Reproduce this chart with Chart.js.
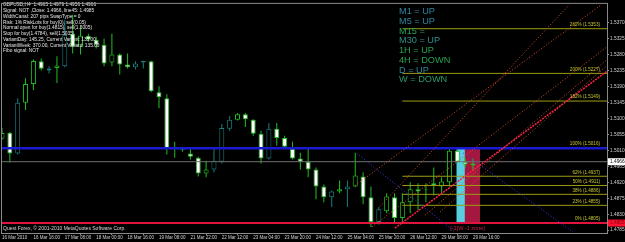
<!DOCTYPE html>
<html>
<head>
<meta charset="utf-8">
<script src="https://cdn.jsdelivr.net/npm/chart.js@4.4.1/dist/chart.umd.min.js"></script>
<style>
  html, body { margin: 0; padding: 0; background: #000; overflow: hidden; }
  canvas { display: block; }
</style>
</head>
<body>
<canvas id="chart" width="625" height="242"></canvas>
<script>
// GBPUSD H4 - candles (bar index 0 = 16 Mar 2010 00:00)
const opens  = [1.5043, 1.5060, 1.5001, 1.5144, 1.5197, 1.5261, 1.5235, 1.5242, 1.5247, 1.5339,
                1.5302, 1.5333, 1.5322, 1.5308, 1.5258, 1.5280, 1.5252, 1.5244, 1.5258, 1.5261,
                1.5174, 1.5157, 1.5015, 1.5017, 1.5001, 1.4989, 1.4945, 1.4956, 1.4978, 1.5071,
                1.5096, 1.5112, 1.5096, 1.5057, 1.4987, 1.5071, 1.5045, 1.5015, 1.4987, 1.4978,
                1.4956, 1.4908, 1.4878, 1.4894, 1.4900, 1.4908, 1.4936, 1.4878, 1.4808, 1.4838,
                1.4878, 1.4819, 1.4864, 1.4900, 1.4899, 1.4917, 1.4908, 1.4920, 1.5009, 1.4978,
                1.4967];
const highs  = [1.5073, 1.5062, 1.5157, 1.5213, 1.5266, 1.5269, 1.5247, 1.5275, 1.5378, 1.5392,
                1.5358, 1.5339, 1.5330, 1.5325, 1.5339, 1.5283, 1.5283, 1.5261, 1.5263, 1.5263,
                1.5191, 1.5168, 1.5034, 1.5020, 1.5015, 1.4992, 1.4981, 1.5015, 1.5084, 1.5107,
                1.5115, 1.5115, 1.5098, 1.5065, 1.5087, 1.5087, 1.5051, 1.5034, 1.5003, 1.5015,
                1.4962, 1.4914, 1.4897, 1.4925, 1.4925, 1.5003, 1.4948, 1.4908, 1.4850, 1.4889,
                1.4889, 1.4889, 1.4920, 1.4917, 1.4917, 1.4962, 1.4934, 1.5017, 1.5017, 1.4989,
                1.4987];
const lows   = [1.5040, 1.4976, 1.4998, 1.5124, 1.5180, 1.5235, 1.5227, 1.5200, 1.5244, 1.5283,
                1.5280, 1.5316, 1.5297, 1.5247, 1.5247, 1.5224, 1.5241, 1.5238, 1.5241, 1.5174,
                1.5129, 1.4998, 1.4989, 1.5006, 1.4984, 1.4936, 1.4934, 1.4948, 1.4973, 1.5065,
                1.5094, 1.5076, 1.5051, 1.4973, 1.4984, 1.5023, 1.5015, 1.4984, 1.4956, 1.4934,
                1.4872, 1.4864, 1.4850, 1.4889, 1.4850, 1.4906, 1.4858, 1.4794, 1.4800, 1.4833,
                1.4808, 1.4808, 1.4833, 1.4841, 1.4864, 1.4883, 1.4889, 1.4908, 1.4975, 1.4962,
                1.4953];
const closes = [1.5059, 1.5001, 1.5144, 1.5197, 1.5262, 1.5240, 1.5241, 1.5249, 1.5336, 1.5302,
                1.5333, 1.5322, 1.5308, 1.5255, 1.5280, 1.5252, 1.5244, 1.5255, 1.5262, 1.5177,
                1.5160, 1.5015, 1.5016, 1.5012, 1.4992, 1.4945, 1.4956, 1.4981, 1.5073, 1.5096,
                1.5112, 1.5098, 1.5057, 1.4987, 1.5071, 1.5045, 1.5020, 1.4987, 1.4978, 1.4956,
                1.4908, 1.4878, 1.4894, 1.4900, 1.4908, 1.4939, 1.4878, 1.4808, 1.4844, 1.4880,
                1.4819, 1.4864, 1.4900, 1.4894, 1.4900, 1.4911, 1.4922, 1.5009, 1.4978, 1.4970,
                1.4973];
// bars the colouring indicator paints teal instead of green
const tealBars = [2, 6, 8, 17, 18, 27, 28, 29, 34, 42, 44, 48];

const xTickBars   = [0, 4, 8, 12, 16, 20, 24, 28, 32, 36, 40, 44, 48, 52, 56, 60];
const xTickLabels = ['16 Mar 2010', '16 Mar 16:00', '17 Mar 08:00', '18 Mar 00:00', '18 Mar 16:00',
                     '19 Mar 08:00', '21 Mar 22:00', '22 Mar 12:00', '23 Mar 04:00', '23 Mar 20:00',
                     '24 Mar 12:00', '25 Mar 04:00', '25 Mar 20:00', '26 Mar 12:00', '29 Mar 08:00',
                     '29 Mar 16:00'];
const yTickValues = [1.4785, 1.4830, 1.4875, 1.4920, 1.4965, 1.5010, 1.5055, 1.5100,
                     1.5145, 1.5190, 1.5235, 1.5280, 1.5325, 1.5370];

// horizontal objects
const highLevel = 1.5016;
const lowLevel  = 1.4805;
const bidLevel  = 1.4978;
const lastPrice = '1.4966';

// fibo expansion
const fibStartBar = 51;
const fibPercents = ['0%', '23%', '38%', '50%', '62%', '100%', '162%', '200%', '262%'];
const fibPrices   = [1.4805, 1.4855, 1.4886, 1.4911, 1.4937, 1.5016, 1.5149, 1.5227, 1.5353];

// trend lines: [startBar, startPrice, endBar, endPrice]
const redLines  = [[44.97, 1.4911, 76.31, 1.5420],
                   [47.13, 1.4794, 77.07, 1.5302],
                   [48.15, 1.4852, 72.23, 1.5420],
                   [53.89, 1.4827, 77.07, 1.5266],
                   [55.80, 1.4836, 77.07, 1.5249]];
const mainLine  = [50.06, 1.4791, 77.07, 1.5233];
const blueLines = [[45.22, 1.5001, 57.71, 1.4780],
                   [58.73, 1.5003, 72.74, 1.4780]];

// zones: [startBar, endBar, low, high]
const zones = [[57.9, 58.97, 1.4805, 1.5016],
               [58.97, 60.9, 1.4805, 1.5016]];

const infoLines = [
  'GBPUSD,H4  1.4965 1.4979 1.4956 1.4966',
  'Signal: NOT ,Close: 1.4966, line45: 1.4985',
  'WidthCanal: 207 pips SwapType = 0',
  'Risk: 1% RiskLots for buy(0), sell(0.05)',
  'Normal open for buy(1.4815), sell(1.5005)',
  'Stop for buy(1.4784), sell(1.5035)',
  'VariantDay: 145.25, Current Variant: 135.00',
  'VariantWeek: 370.00, Current Variant: 135.00',
  'Fibo signal: NOT'
];
const trendLines = ['M1 = UP', 'M5 = UP', 'M15 =', 'M30 = UP', '1H = UP', '4H = DOWN', 'D = UP', 'W = DOWN'];
const footer = 'Quest Forex, \u00a9 2001-2010 MetaQuotes Software Corp.';

const GREEN = '#1fbf1f';
const TEAL = '#1e7c7c';
const FONT = 'Liberation Sans, Arial, sans-serif';

function seg(l) {
  return [{ x: l[0], y: l[1] }, { x: l[2], y: l[3] }];
}

const datasets = [];

// wicks
datasets.push({
  type: 'bar', order: 3,
  data: highs.map((h, i) => ({ x: i, y: [lows[i], h] })),
  backgroundColor: highs.map((h, i) => tealBars.includes(i) ? TEAL : GREEN),
  borderWidth: 0, barThickness: 1, grouped: false, inflateAmount: 0
});
// bodies
datasets.push({
  type: 'bar', order: 2,
  data: opens.map((o, i) => ({ x: i, y: [o, closes[i]] })),
  backgroundColor: opens.map((o, i) => closes[i] < o ? '#ffffff' : '#000000'),
  borderColor: opens.map((o, i) => tealBars.includes(i) ? TEAL : GREEN),
  borderWidth: 1, borderSkipped: false, barThickness: 5, grouped: false, inflateAmount: 0
});

// fibo levels
fibPrices.forEach(p => {
  datasets.push({
    type: 'line', order: 1,
    data: [{ x: fibStartBar, y: p }, { x: 77.07, y: p }],
    borderColor: '#9c9c14', borderWidth: 1, pointRadius: 0
  });
});

// trend lines
redLines.forEach(l => {
  datasets.push({
    type: 'line', order: 0, data: seg(l),
    borderColor: '#e0502a', borderWidth: 1, borderDash: [1, 2], pointRadius: 0
  });
});
datasets.push({
  type: 'line', order: 0, data: seg(mainLine),
  borderColor: '#ff1e46', borderWidth: 1.5, borderDash: [2, 1], pointRadius: 0
});
blueLines.forEach(l => {
  datasets.push({
    type: 'line', order: 0, data: seg(l),
    borderColor: '#3838ff', borderWidth: 1, borderDash: [1, 2], pointRadius: 0
  });
});

// horizontal levels
datasets.push({
  type: 'line', order: 0,
  data: [{ x: 0, y: bidLevel }, { x: 77.07, y: bidLevel }],
  borderColor: '#707070', borderWidth: 1, pointRadius: 0
});
datasets.push({
  type: 'line', order: 0,
  data: [{ x: 0, y: highLevel }, { x: 77.07, y: highLevel }],
  borderColor: '#1a1ad0', borderWidth: 2.5, pointRadius: 0
});
datasets.push({
  type: 'line', order: 0,
  data: [{ x: 0, y: lowLevel }, { x: 77.07, y: lowLevel }],
  borderColor: '#e0143c', borderWidth: 2, pointRadius: 0
});

const overlay = {
  id: 'overlay',
  beforeDatasetsDraw(chart) {
    const { ctx, scales: { x, y } } = chart;
    const zoneColors = ['#58cfe0', '#a4183f'];
    ctx.save();
    zones.forEach((z, i) => {
      const x0 = x.getPixelForValue(z[0]), x1 = x.getPixelForValue(z[1]);
      const y0 = y.getPixelForValue(z[3]), y1 = y.getPixelForValue(z[2]);
      ctx.fillStyle = zoneColors[i];
      ctx.fillRect(x0, y0, x1 - x0, y1 - y0);
    });
    ctx.restore();
  },
  afterDatasetsDraw(chart) {
    const { ctx, chartArea: a, scales: { x, y } } = chart;
    ctx.save();

    // fibo labels
    ctx.font = '4.6px ' + FONT;
    ctx.fillStyle = '#c8c832';
    ctx.textAlign = 'right';
    ctx.textBaseline = 'middle';
    fibPrices.forEach((p, i) => {
      ctx.fillText(fibPercents[i] + ' (' + p.toFixed(4) + ')', 600, y.getPixelForValue(p) - 4);
    });

    // zone caption
    ctx.font = '5.5px ' + FONT;
    ctx.fillStyle = '#d0204a';
    ctx.textAlign = 'center';
    ctx.fillText('[-1]W -1 zone]', x.getPixelForValue(59.3), y.getPixelForValue(lowLevel) + 5);

    // info block
    ctx.font = '4.8px ' + FONT;
    ctx.fillStyle = '#e6e6e6';
    ctx.textAlign = 'left';
    infoLines.forEach((t, i) => ctx.fillText(t, 3, 5 + i * 5.75));

    // timeframe trend block
    ctx.font = '9.2px ' + FONT;
    const tcol = ['#2f86a0', '#2f86a0', '#28a050', '#2f8f88', '#28a050', '#28a050', '#2f86a0', '#2a9a6a'];
    trendLines.forEach((t, i) => {
      ctx.fillStyle = tcol[i];
      ctx.fillText(t, 399, 11.7 + i * 9.75);
    });

    // footer
    ctx.font = '5px ' + FONT;
    ctx.fillStyle = '#d8d8d8';
    ctx.fillText(footer, 3, 229);

    // frame
    ctx.strokeStyle = '#8a8a8a';
    ctx.lineWidth = 1;
    ctx.strokeRect(a.left - 0.5, a.top - 0.5, a.right - a.left + 1, a.bottom - a.top + 1);

    // price boxes on the axis
    ctx.font = '4.8px ' + FONT;
    const by = y.getPixelForValue(bidLevel);
    ctx.fillStyle = '#ffffff';
    ctx.fillRect(a.right + 1, by - 3.5, 18, 7);
    ctx.fillStyle = '#000000';
    ctx.fillText(lastPrice, a.right + 3, by);
    const ry = y.getPixelForValue(lowLevel);
    ctx.fillStyle = '#ff1030';
    ctx.fillRect(a.right + 1, ry - 3.5, 18, 7);
    ctx.fillStyle = '#7a0010';
    ctx.fillText(lowLevel.toFixed(4), a.right + 3, ry);
    ctx.restore();
  }
};

new Chart(document.getElementById('chart').getContext('2d'), {
  type: 'bar',
  data: { datasets: datasets },
  options: {
    responsive: false,
    animation: false,
    events: [],
    layout: { padding: { left: 2, top: 2, right: 0, bottom: 0 } },
    plugins: { legend: { display: false }, tooltip: { enabled: false } },
    scales: {
      x: {
        type: 'linear', min: 0, max: 77.07, offset: false,
        grid: { drawOnChartArea: false, color: '#8a8a8a', tickLength: 2 },
        border: { display: false },
        afterBuildTicks: s => { s.ticks = xTickBars.map(v => ({ value: v })); },
        afterFit: s => { s.height = 9; },
        ticks: {
          autoSkip: false, maxRotation: 0, align: 'start', padding: 0,
          color: '#d0d0d0', font: { family: FONT, size: 4.5 },
          callback: v => xTickLabels[xTickBars.indexOf(v)]
        }
      },
      y: {
        position: 'right', min: 1.4777, max: 1.5423,
        grid: { drawOnChartArea: false, color: '#8a8a8a', tickLength: 2 },
        border: { display: false },
        afterBuildTicks: s => { s.ticks = yTickValues.map(v => ({ value: v })); },
        afterFit: s => { s.width = 18; },
        ticks: {
          padding: 1, color: '#d0d0d0', font: { family: FONT, size: 4.8 },
          callback: v => v.toFixed(4)
        }
      }
    }
  },
  plugins: [overlay]
});
</script>
</body>
</html>
